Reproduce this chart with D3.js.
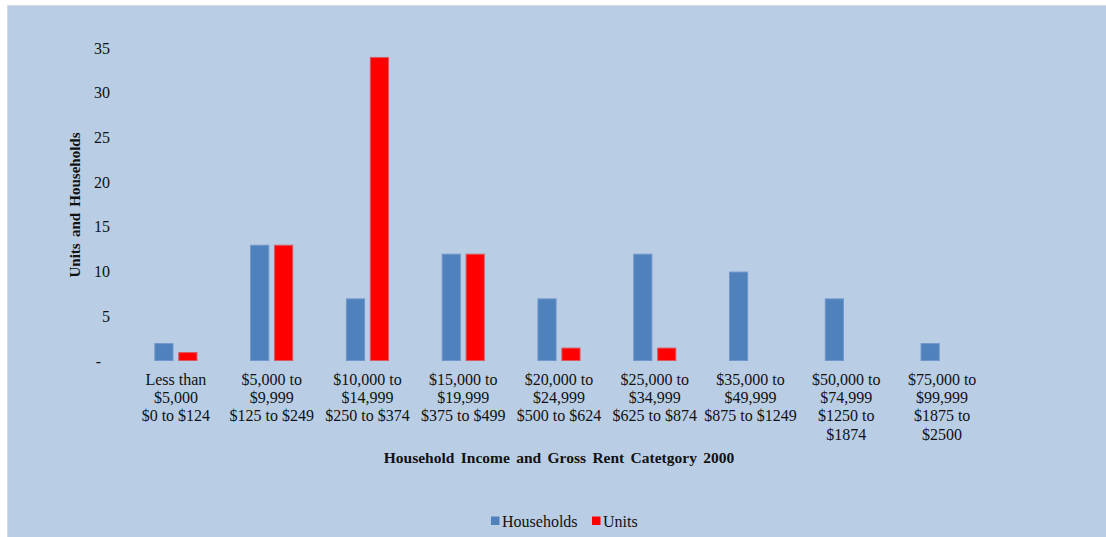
<!DOCTYPE html>
<html>
<head>
<meta charset="utf-8">
<script src="https://cdn.jsdelivr.net/npm/d3@7"></script>
<style>
  html, body { margin: 0; padding: 0; background: #ffffff; }
  svg { display: block; }
  text { font-family: "Liberation Serif", "Times New Roman", serif; fill: #111; }
</style>
</head>
<body>
<svg id="chart" width="1106" height="537"></svg>
<script>
// Income / gross-rent categories (each label split into lines)
const categories = [
  ["Less than", "$5,000", "$0 to $124"],
  ["$5,000 to", "$9,999", "$125 to $249"],
  ["$10,000 to", "$14,999", "$250 to $374"],
  ["$15,000 to", "$19,999", "$375 to $499"],
  ["$20,000 to", "$24,999", "$500 to $624"],
  ["$25,000 to", "$34,999", "$625 to $874"],
  ["$35,000 to", "$49,999", "$875 to $1249"],
  ["$50,000 to", "$74,999", "$1250 to", "$1874"],
  ["$75,000 to", "$99,999", "$1875 to", "$2500"]
];
const households = [2, 13, 7, 12, 7, 12, 10, 7, 2];
const units = [1, 13, 34, 12, 1.5, 1.5, 0, 0, 0];
const yTicks = [0, 5, 10, 15, 20, 25, 30, 35];
const seriesNames = ["Households", "Units"];
const seriesColors = ["#4F81BD", "#FF0000"];
const seriesStrokes = ["#7097CB", "#D9595E"];

const svg = d3.select("#chart");

// chart area background
svg.append("rect")
  .attr("x", 7.5).attr("y", 5.5)
  .attr("width", 1110).attr("height", 540)
  .attr("fill", "#B9CDE5")
  .attr("stroke", "#D9D9D9").attr("stroke-width", 1);

const x0 = d3.scaleBand()
  .domain(d3.range(categories.length))
  .range([128, 990])
  .paddingInner(0.55)
  .paddingOuter(0.275);

const x1 = d3.scaleBand()
  .domain(seriesNames)
  .range([0, x0.bandwidth()])
  .paddingInner(0.2);

const y = d3.scaleLinear().domain([0, 35]).range([361, 48]);

// y axis labels (zero shown as a dash)
const yAxis = d3.axisLeft(y)
  .tickValues(yTicks)
  .tickSize(0)
  .tickPadding(0)
  .tickFormat(d => d === 0 ? "-" : d);
const gy = svg.append("g").attr("transform", "translate(110,0)").call(yAxis);
gy.select(".domain").remove();
gy.selectAll("text")
  .style("font-family", "'Liberation Serif', serif")
  .style("font-size", "16px")
  .attr("fill", "#111");
gy.selectAll(".tick").filter(d => d === 0).select("text").attr("x", -9);

// bars
const data = categories.map((c, i) => ({ i, vals: [households[i], units[i]] }));
const groups = svg.append("g").selectAll("g")
  .data(data).join("g")
  .attr("transform", d => `translate(${x0(d.i)},0)`);

groups.selectAll("rect")
  .data(d => d.vals.map((v, k) => ({ v, k })).filter(e => e.v > 0))
  .join("rect")
  .attr("x", e => x1(seriesNames[e.k]) + 0.5)
  .attr("y", e => y(e.v) + 0.5)
  .attr("width", x1.bandwidth() - 1)
  .attr("height", e => y(0) - y(e.v) - 1)
  .attr("fill", e => seriesColors[e.k])
  .attr("stroke", e => seriesStrokes[e.k])
  .attr("stroke-width", 1);

// category labels
const xl = svg.append("g").selectAll("text")
  .data(categories.map((c, i) => ({ c, i }))).join("text")
  .attr("x", d => x0(d.i) + x0.bandwidth() / 2)
  .attr("y", 385)
  .attr("text-anchor", "middle")
  .style("font-size", "16px");
xl.selectAll("tspan")
  .data(d => d.c.map((line, j) => ({ line, j, cx: x0(d.i) + x0.bandwidth() / 2 })))
  .join("tspan")
  .attr("x", t => t.cx)
  .attr("dy", t => t.j === 0 ? 0 : 18.2)
  .text(t => t.line);

// axis titles
svg.append("text")
  .attr("x", 559).attr("y", 463)
  .attr("text-anchor", "middle")
  .style("font-size", "15.5px").style("font-weight", "bold")
  .style("word-spacing", "2.5px")
  .text("Household Income and Gross Rent Catetgory 2000");

svg.append("text")
  .attr("transform", "translate(80,205) rotate(-90)")
  .attr("text-anchor", "middle")
  .style("font-size", "15px").style("font-weight", "bold")
  .style("word-spacing", "2.5px")
  .text("Units and Households");

// legend
const legend = svg.append("g");
const legendItems = [{ x: 491, k: 0 }, { x: 592, k: 1 }];
legendItems.forEach(it => {
  legend.append("rect")
    .attr("x", it.x).attr("y", 516.5)
    .attr("width", 8.5).attr("height", 8.5)
    .attr("fill", seriesColors[it.k]);
  legend.append("text")
    .attr("x", it.x + 11).attr("y", 526.5)
    .style("font-size", "16px")
    .text(seriesNames[it.k]);
});
</script>
</body>
</html>
